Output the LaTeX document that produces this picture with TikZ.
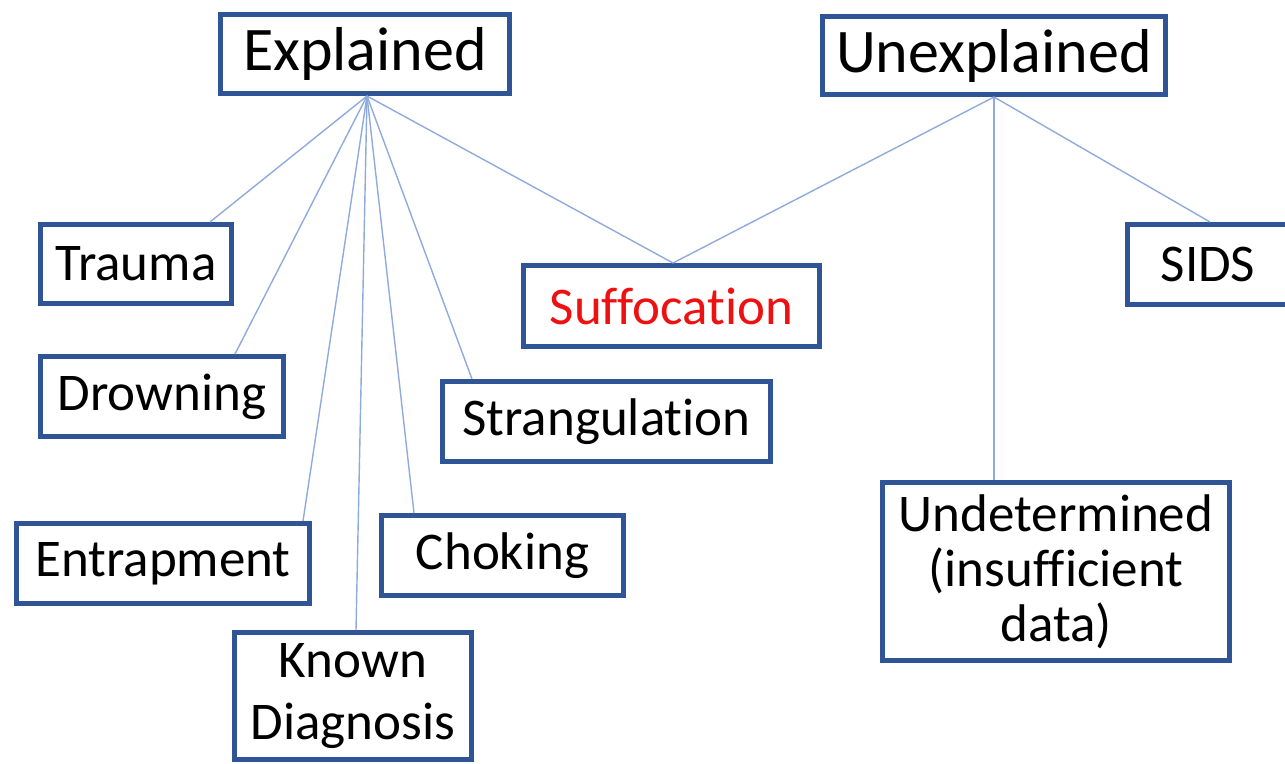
\documentclass[tikz,border=0pt]{standalone}
\usepackage{fontspec}
\setmainfont{Carlito}[Ligatures={NoCommon,NoDiscretionary,NoContextual}]
\definecolor{boxblue}{HTML}{2F5597}
\definecolor{linkblue}{HTML}{8FAADC}
\definecolor{redtext}{HTML}{EE1111}
\begin{document}
\begin{tikzpicture}[x=1pt,y=-1pt,
  box/.style={draw=boxblue,line width=5pt,fill=white,rectangle,inner sep=0pt,align=center,
    font=\fontsize{53}{62}\selectfont},
  topbox/.style={box,font=\fontsize{62}{73}\selectfont},
  link/.style={draw=linkblue,line width=1.4pt}]
\useasboundingbox (0,0) rectangle (1285,763);
\begin{scope}
\clip (0,0) rectangle (1285,763);
\node[topbox,minimum width=289pt,minimum height=79pt] (explained) at (365,54) {Explained};
\node[topbox,minimum width=343pt,minimum height=78pt] (unexplained) at (994,55.5) {Unexplained};
\node[box,minimum width=191pt,minimum height=79pt] (trauma) at (136,264) {Trauma};
\node[box,minimum width=243pt,minimum height=80pt] (drowning) at (162,396.5) {Drowning};
\node[box,minimum width=293pt,minimum height=80pt] (entrapment) at (163,563.5) {Entrapment};
\node[box,minimum width=237pt,minimum height=127pt] (known) at (353,696) {\raisebox{-5pt}{Known}\\\raisebox{-5pt}{Diagnosis}};
\node[box,minimum width=242pt,minimum height=80pt] (choking) at (502.5,555.5) {Choking};
\node[box,minimum width=328pt,minimum height=80pt] (strangulation) at (606.5,421.5) {Strangulation};
\node[box,minimum width=296pt,minimum height=81pt,text=redtext] (suffocation) at (671.5,306) {Suffocation};
\node[box,minimum width=161pt,minimum height=80pt] (sids) at (1208,264.5) {SIDS};
\node[box,minimum width=347pt,minimum height=178pt,font=\fontsize{53}{55}\selectfont] (undetermined) at (1056,571.5) {\raisebox{-5pt}{Undetermined}\\\raisebox{-5pt}{(insufficient}\\\raisebox{-5pt}{data)}};
\coordinate (exroot) at ([xshift=2pt]explained.south);
\draw[link] (exroot) -- ([xshift=74pt]trauma.north);
\draw[link] (exroot) -- ([xshift=73pt]drowning.north);
\draw[link] (exroot) -- ([xshift=140pt]entrapment.north);
\draw[link] (exroot) -- ([xshift=3pt]known.north);
\draw[link] (exroot) -- ([xshift=-88.5pt]choking.north);
\draw[link] (exroot) -- ([xshift=-134.5pt]strangulation.north);
\draw[link] (exroot) -- ([xshift=1.5pt]suffocation.north);
\draw[link] (unexplained.south) -- ([xshift=1.5pt]suffocation.north);
\draw[link] (unexplained.south) -- ([xshift=-62pt]undetermined.north);
\draw[link] (unexplained.south) -- ([xshift=2pt]sids.north);
\end{scope}
\end{tikzpicture}
\end{document}
